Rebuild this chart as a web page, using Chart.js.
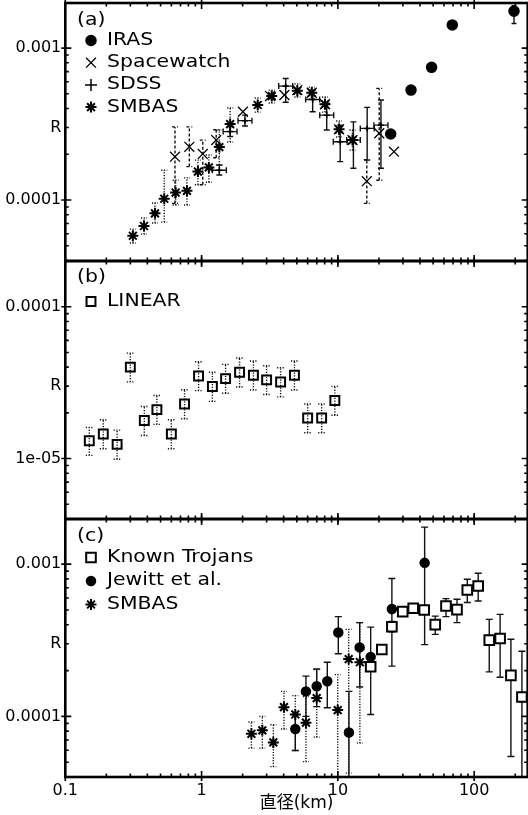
<!DOCTYPE html>
<html>
<head>
<meta charset="utf-8">
<script src="https://cdn.jsdelivr.net/npm/chart.js@4.4.1/dist/chart.umd.min.js"></script>
<style>
  html, body { margin: 0; padding: 0; background: #fff; }
  canvas { display: block; }
</style>
</head>
<body>
<canvas id="graficoR" width="528" height="815"></canvas>
<script>
// ---------- panel (a) ----------
const irasD   = [24.4, 34.4, 48.7, 69.1, 196];
const irasR   = [2.72e-4, 5.29e-4, 7.47e-4, 1.42e-3, 1.75e-3];
const irasLo  = [2.62e-4, 5.12e-4, 7.25e-4, 1.38e-3, 1.45e-3];
const irasHi  = [2.82e-4, 5.46e-4, 7.7e-4, 1.46e-3, 1.9e-3];
const irasXLo = [22.9, 32.3, 45.7, 64.9, 184];
const irasXHi = [25.9, 36.5, 51.7, 73.4, 208];

const swD  = [0.638, 0.813, 1.02, 1.28, 2.01, 3.18, 4.05, 5.04, 6.43, 8.04, 10.2, 12.8, 16.3, 20.1, 25.8];
const swR  = [1.93e-4, 2.24e-4, 2.01e-4, 2.48e-4, 3.81e-4, 4.83e-4, 4.91e-4, 5.29e-4, 5.08e-4, 4.27e-4, 2.92e-4, 2.48e-4, 1.33e-4, 2.75e-4, 2.08e-4];
const swLo = [9.5e-5, 1.66e-4, 1.26e-4, 1.9e-4, null, null, null, null, null, null, null, null, 9.5e-5, 1.35e-4, null];
const swHi = [3.03e-4, 3.03e-4, 2.48e-4, 2.9e-4, null, null, null, null, null, null, null, null, 1.84e-4, 5.43e-4, null];

const sdssD   = [1.35, 1.62, 2.08, 4.14, 6.53, 8.28, 10.4, 13.0, 16.4, 20.7];
const sdssR   = [1.57e-4, 2.82e-4, 3.33e-4, 5.62e-4, 4.59e-4, 3.62e-4, 2.42e-4, 2.48e-4, 2.96e-4, 3.11e-4];
const sdssLo  = [1.46e-4, 2.62e-4, 3.07e-4, 4.4e-4, 3.81e-4, 2.89e-4, 1.79e-4, 1.62e-4, 1.83e-4, 1.62e-4];
const sdssHi  = [1.70e-4, 3.05e-4, 3.62e-4, 6.3e-4, 5.29e-4, 4.33e-4, 3.11e-4, 3.27e-4, 4.07e-4, 4.55e-4];
const sdssXLo = [1.20, 1.44, 1.85, 3.68, 5.80, 7.36, 9.25, 11.6, 14.6, 18.4];
const sdssXHi = [1.52, 1.82, 2.34, 4.66, 7.35, 9.32, 11.7, 14.6, 18.5, 23.3];

const smaD  = [0.313, 0.378, 0.455, 0.532, 0.645, 0.781, 0.94, 1.13, 1.35, 1.62, 2.58, 3.27, 5.04, 6.43, 8.04, 10.2, 12.8];
const smaR  = [5.82e-5, 6.75e-5, 8.17e-5, 1.02e-4, 1.12e-4, 1.15e-4, 1.54e-4, 1.64e-4, 2.23e-4, 3.16e-4, 4.22e-4, 4.83e-4, 5.24e-4, 5.08e-4, 4.27e-4, 2.92e-4, 2.48e-4];
const smaLo = [5.21e-5, 5.97e-5, 7.06e-5, 7.16e-5, 9.27e-5, 9.27e-5, 1.26e-4, 1.31e-4, 1.70e-4, 2.41e-4, 3.79e-4, 4.35e-4, 4.76e-4, 4.61e-4, 3.79e-4, 2.60e-4, 2.13e-4];
const smaHi = [6.44e-5, 7.62e-5, 9.55e-5, 1.57e-4, 1.35e-4, 1.40e-4, 1.83e-4, 1.98e-4, 2.89e-4, 4.03e-4, 4.69e-4, 5.29e-4, 5.80e-4, 5.53e-4, 4.76e-4, 3.31e-4, 2.89e-4];

// ---------- panel (b) ----------
const linD  = [0.15, 0.19, 0.24, 0.30, 0.38, 0.47, 0.60, 0.75, 0.95, 1.2, 1.5, 1.9, 2.4, 3.0, 3.8, 4.8, 6.0, 7.6, 9.5];
const linR  = [1.31e-5, 1.45e-5, 1.24e-5, 4.0e-5, 1.78e-5, 2.10e-5, 1.45e-5, 2.29e-5, 3.50e-5, 2.98e-5, 3.36e-5, 3.70e-5, 3.54e-5, 3.30e-5, 3.19e-5, 3.54e-5, 1.85e-5, 1.85e-5, 2.41e-5];
const linLo = [1.05e-5, 1.16e-5, 0.99e-5, 3.2e-5, 1.42e-5, 1.68e-5, 1.16e-5, 1.83e-5, 2.80e-5, 2.38e-5, 2.69e-5, 2.96e-5, 2.83e-5, 2.64e-5, 2.55e-5, 2.83e-5, 1.48e-5, 1.48e-5, 1.93e-5];
const linHi = [1.60e-5, 1.80e-5, 1.54e-5, 4.95e-5, 2.20e-5, 2.60e-5, 1.80e-5, 2.84e-5, 4.34e-5, 3.70e-5, 4.17e-5, 4.59e-5, 4.39e-5, 4.09e-5, 3.96e-5, 4.39e-5, 2.29e-5, 2.29e-5, 2.99e-5];

// ---------- panel (c) ----------
const troD  = [17.4, 21.0, 24.9, 29.9, 35.7, 43.0, 51.8, 62.1, 74.8, 89.0, 107, 129, 155, 186, 224];
const troR  = [2.12e-4, 2.75e-4, 3.88e-4, 4.88e-4, 5.13e-4, 5.00e-4, 4.01e-4, 5.31e-4, 5.03e-4, 6.77e-4, 7.19e-4, 3.17e-4, 3.25e-4, 1.86e-4, 1.34e-4];
const troLo = [1.03e-4, 2.6e-4, 3.6e-4, 4.6e-4, 4.75e-4, 4.7e-4, 3.46e-4, 4.52e-4, 4.13e-4, 5.60e-4, 5.73e-4, 1.96e-4, 1.81e-4, 5.45e-5, 3.0e-5];
const troHi = [2.4e-4, 2.9e-4, 4.2e-4, 5.2e-4, 5.5e-4, 5.3e-4, 4.56e-4, 5.94e-4, 5.88e-4, 7.96e-4, 8.72e-4, 4.34e-4, 4.68e-4, 3.21e-4, 2.68e-4];

const jewD  = [4.87, 5.83, 6.99, 8.36, 10.07, 12.05, 14.45, 17.4, 24.9, 43.3];
const jewR  = [8.26e-5, 1.46e-4, 1.58e-4, 1.70e-4, 3.56e-4, 7.85e-5, 2.84e-4, 2.46e-4, 5.07e-4, 1.02e-3];
const jewLo = [5.97e-5, 1.0e-4, 1.16e-4, 1.14e-4, 2.58e-4, 2.0e-5, 1.56e-4, 2.1e-4, 2.14e-4, 2.96e-4];
const jewHi = [1.03e-4, 1.84e-4, 2.05e-4, 2.27e-4, 4.52e-4, 1.46e-4, 4.13e-4, 3.86e-4, 8.05e-4, 1.75e-3];

const smcD  = [2.32, 2.79, 3.36, 4.02, 4.87, 5.83, 6.99, 9.97, 12.0, 14.5];
const smcR  = [7.69e-5, 8.1e-5, 6.75e-5, 1.15e-4, 1.03e-4, 9.1e-5, 1.32e-4, 1.10e-4, 2.38e-4, 2.27e-4];
const smcLo = [6.19e-5, 6.19e-5, 4.68e-5, 8.26e-5, 5.97e-5, 5.05e-5, 7.31e-5, 3.5e-5, 4.24e-5, 6.68e-5];
const smcHi = [9.19e-5, 1.0e-4, 8.81e-5, 1.46e-4, 1.37e-4, 1.35e-4, 2.03e-4, 1.88e-4, 3.73e-4, 4.13e-4];

// ---------- axes ----------
const xRange = [0.1, 247];
const xTicks = [0.1, 1, 10, 100];
const xTickLabels = ['0.1', '1', '10', '100'];
const yRangeA = [3.97e-5, 1.98e-3];
const yRangeB = [4.0e-6, 2.0e-4];
const yRangeC = [4.0e-5, 1.98e-3];
const yTicksA = [1e-4, 3e-4, 1e-3];
const yTicksB = [1e-5, 3e-5, 1e-4];
const yTicksC = [1e-4, 3e-4, 1e-3];
const yLabelsA = ['0.0001', 'R', '0.001'];
const yLabelsB = ['1e-05', 'R', '0.0001'];
const yLabelsC = ['0.0001', 'R', '0.001'];

const FONT = '"DejaVu Sans", "Noto Sans CJK JP", sans-serif';
Chart.defaults.font.family = FONT;
Chart.defaults.color = '#000';

const pts = (xs, ys) => xs.map((x, i) => ({ x: x, y: ys[i] }));

function serie(label, axis, xs, ys, lo, hi, style) {
  return Object.assign({
    label: label,
    yAxisID: axis,
    data: pts(xs, ys),
    errLo: lo,
    errHi: hi,
    showLine: false,
    pointBorderColor: '#000',
    pointBackgroundColor: '#000',
    pointBorderWidth: 1.5,
    pointHoverRadius: 0
  }, style);
}

const datasets = [
  serie('IRAS', 'yA', irasD, irasR, irasLo, irasHi,
    { pointStyle: 'circle', pointRadius: 5, xLo: irasXLo, xHi: irasXHi, errDash: [], errCap: 2.5 }),
  serie('Spacewatch', 'yA', swD, swR, swLo, swHi,
    { pointStyle: 'crossRot', pointRadius: 7, pointBorderWidth: 1.3, errDash: [3, 2], errCap: 3 }),
  serie('SDSS', 'yA', sdssD, sdssR, sdssLo, sdssHi,
    { pointStyle: 'cross', pointRadius: 3, legendRadius: 6, xLo: sdssXLo, xHi: sdssXHi, errDash: [], errCap: 3 }),
  serie('SMBAS', 'yA', smaD, smaR, smaLo, smaHi,
    { pointStyle: 'star', pointRadius: 5.5, pointBorderWidth: 2, errDash: [1.2, 1.5], errCap: 3 }),
  serie('LINEAR', 'yB', linD, linR, linLo, linHi,
    { pointStyle: 'rect', pointRadius: 6.3, pointBorderWidth: 2, pointBackgroundColor: 'rgba(0,0,0,0)', errDash: [1.2, 1.5], errCap: 3.5 }),
  serie('Known Trojans', 'yC', troD, troR, troLo, troHi,
    { pointStyle: 'rect', pointRadius: 6.8, pointBorderWidth: 2, pointBackgroundColor: '#fff', errDash: [], errCap: 3.5 }),
  serie('Jewitt et al.', 'yC', jewD, jewR, jewLo, jewHi,
    { pointStyle: 'circle', pointRadius: 4.5, errDash: [], errCap: 3.5 }),
  serie('SMBAS', 'yC', smcD, smcR, smcLo, smcHi,
    { pointStyle: 'star', pointRadius: 5.5, pointBorderWidth: 2, errDash: [1.2, 1.5], errCap: 3 })
];

// error bars, clipped to their own panel
const errorBars = {
  id: 'errorBars',
  beforeDatasetsDraw(chart) {
    const ctx = chart.ctx, xs = chart.scales.x, area = chart.chartArea;
    chart.data.datasets.forEach((ds) => {
      const ys = chart.scales[ds.yAxisID];
      ctx.save();
      ctx.beginPath();
      ctx.rect(area.left, ys.top, area.right - area.left, ys.bottom - ys.top);
      ctx.clip();
      ctx.strokeStyle = '#111';
      ctx.lineWidth = 1.4;
      ctx.setLineDash(ds.errDash || []);
      const cap = ds.errCap || 3;
      ds.data.forEach((p, i) => {
        const px = xs.getPixelForValue(p.x);
        const py = ys.getPixelForValue(p.y);
        ctx.beginPath();
        if (ds.errLo && ds.errLo[i] != null) {
          const y1 = ys.getPixelForValue(ds.errLo[i]);
          const y2 = ys.getPixelForValue(ds.errHi[i]);
          ctx.moveTo(px, y1); ctx.lineTo(px, y2);
          ctx.moveTo(px - cap, y1); ctx.lineTo(px + cap, y1);
          ctx.moveTo(px - cap, y2); ctx.lineTo(px + cap, y2);
        }
        if (ds.xLo) {
          const x1 = xs.getPixelForValue(ds.xLo[i]);
          const x2 = xs.getPixelForValue(ds.xHi[i]);
          ctx.moveTo(x1, py); ctx.lineTo(x2, py);
          ctx.moveTo(x1, py - cap); ctx.lineTo(x1, py + cap);
          ctx.moveTo(x2, py - cap); ctx.lineTo(x2, py + cap);
        }
        ctx.stroke();
      });
      ctx.restore();
    });
  }
};

// box around each panel with inward log ticks on all four sides
const panelFrames = {
  id: 'panelFrames',
  afterDatasetsDraw(chart) {
    const ctx = chart.ctx, xs = chart.scales.x, a = chart.chartArea;
    ctx.save();
    ctx.strokeStyle = '#000';
    ctx.setLineDash([]);
    ['yA', 'yB', 'yC'].forEach((id) => {
      const ys = chart.scales[id];
      const t = ys.top, b = ys.bottom, l = a.left, r = a.right;
      ctx.lineWidth = 1.6;
      ctx.beginPath();
      for (let k = -1; k <= 2; k++) {
        for (let m = 1; m <= 9; m++) {
          const v = m * Math.pow(10, k);
          if (v < xs.min * 0.999 || v > xs.max) continue;
          const px = xs.getPixelForValue(v);
          const len = m === 1 ? 6 : 3.5, out = m === 1 ? 4 : 0;
          ctx.moveTo(px, b + out); ctx.lineTo(px, b - len);
          ctx.moveTo(px, t - out); ctx.lineTo(px, t + len);
        }
      }
      for (let k = -6; k <= -2; k++) {
        for (let m = 1; m <= 9; m++) {
          const v = m * Math.pow(10, k);
          if (v < ys.min || v > ys.max) continue;
          const py = ys.getPixelForValue(v);
          const len = m === 1 ? 6 : 3.5, out = m === 1 ? 4 : 0;
          ctx.moveTo(l - out, py); ctx.lineTo(l + len, py);
          ctx.moveTo(r + out, py); ctx.lineTo(r - len, py);
        }
      }
      ctx.stroke();
      ctx.lineWidth = 2.6;
      ctx.strokeRect(l, t, r - l, b - t);
    });
    ctx.restore();
  }
};

// panel tag and legend drawn inside each panel
const panelKeys = [
  { axis: 'yA', tag: '(a)', sets: [0, 1, 2, 3], tagDy: 18, rowDy: 37.5, step: 22.2 },
  { axis: 'yB', tag: '(b)', sets: [4], tagDy: 17, rowDy: 40.5, step: 23 },
  { axis: 'yC', tag: '(c)', sets: [5, 6, 7], tagDy: 17.5, rowDy: 38.5, step: 23.5 }
];

const panelLegend = {
  id: 'panelLegend',
  afterDraw(chart) {
    const ctx = chart.ctx;
    const stretch = (txt, x, y) => {
      ctx.save();
      ctx.translate(x, y);
      ctx.scale(1.2, 1);
      ctx.fillText(txt, 0, 0);
      ctx.restore();
    };
    ctx.save();
    ctx.font = '17px ' + FONT;
    ctx.textBaseline = 'middle';
    ctx.textAlign = 'left';
    panelKeys.forEach((p) => {
      const top = chart.scales[p.axis].top;
      ctx.fillStyle = '#000';
      stretch(p.tag, 77, top + p.tagDy);
      p.sets.forEach((idx, j) => {
        const ds = chart.data.datasets[idx];
        const y = top + p.rowDy + j * p.step;
        ctx.save();
        ctx.setLineDash([]);
        ctx.fillStyle = ds.pointBackgroundColor;
        ctx.strokeStyle = ds.pointBorderColor;
        ctx.lineWidth = ds.pointBorderWidth;
        Chart.helpers.drawPoint(ctx, {
          pointStyle: ds.pointStyle,
          radius: ds.legendRadius || ds.pointRadius,
          rotation: 0,
          borderWidth: ds.pointBorderWidth
        }, 91, y);
        ctx.restore();
        ctx.fillStyle = '#000';
        stretch(ds.label, 107, y);
      });
    });
    ctx.restore();
  }
};

function yAxis(range, ticks, labels, weight) {
  return {
    type: 'logarithmic',
    position: 'left',
    stack: 'panels',
    stackWeight: 1,
    weight: weight,
    min: range[0],
    max: range[1],
    grid: { display: false, drawTicks: false },
    border: { display: false },
    afterBuildTicks: (s) => { s.ticks = ticks.map((v) => ({ value: v })); },
    ticks: {
      autoSkip: false,
      padding: 4,
      font: { size: 16 },
      callback: (v, i) => labels[i]
    },
    afterFit: (s) => { s.width = 65.3; s.paddingTop = 0; s.paddingBottom = 0; }
  };
}

const ctx = document.getElementById('graficoR').getContext('2d');

const graficoR = new Chart(ctx, {
  type: 'scatter',
  data: { datasets: datasets },
  options: {
    responsive: false,
    animation: false,
    layout: { autoPadding: false, padding: { top: 3, right: 0.3, bottom: 0, left: 0 } },
    plugins: {
      legend: { display: false },
      tooltip: { enabled: false }
    },
    scales: {
      x: {
        type: 'logarithmic',
        position: 'bottom',
        min: xRange[0],
        max: xRange[1],
        grid: { display: false, drawTicks: false },
        border: { display: false },
        afterBuildTicks: (s) => { s.ticks = xTicks.map((v) => ({ value: v })); },
        ticks: {
          autoSkip: false,
          maxRotation: 0,
          padding: 4,
          font: { size: 16 },
          callback: (v, i) => xTickLabels[i]
        },
        title: {
          display: true,
          text: '直径(km)',
          font: { size: 17 },
          padding: { top: 0, bottom: 1 }
        },
        afterFit: (s) => { s.height = 38; s.paddingLeft = 0; s.paddingRight = 0; }
      },
      yA: yAxis(yRangeA, yTicksA, yLabelsA, 3),
      yB: yAxis(yRangeB, yTicksB, yLabelsB, 2),
      yC: yAxis(yRangeC, yTicksC, yLabelsC, 1)
    }
  },
  plugins: [errorBars, panelFrames, panelLegend]
});
</script>
</body>
</html>
